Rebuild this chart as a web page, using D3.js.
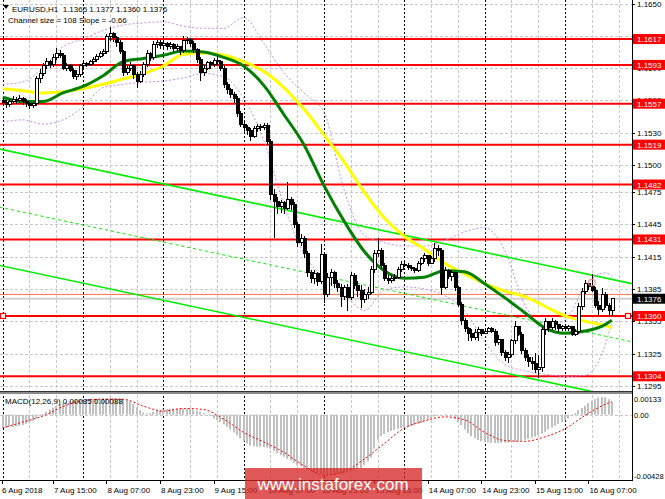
<!DOCTYPE html>
<html>
<head>
<meta charset="utf-8">
<title>EURUSD H1</title>
<script src="https://cdn.jsdelivr.net/npm/d3@7"></script>
<style>
  body { margin: 0; background: #ffffff; }
  svg { display: block; font-family: "Liberation Sans", Arial, sans-serif; }
</style>
</head>
<body>
<svg id="chart" width="665" height="499"></svg>
<script>
// EURUSD H1 - bar 0 is 7 Aug 2018 00:00, weekend bars are skipped
const opens = [
  1.1560, 1.1558, 1.1556, 1.1559, 1.1561, 1.1560, 1.1562, 1.1559, 1.1557, 1.1555,
  1.1557, 1.1580, 1.1585, 1.1592, 1.1596, 1.1593, 1.1600, 1.1604, 1.1602, 1.1590,
  1.1592, 1.1588, 1.1582, 1.1584, 1.1592, 1.1594, 1.1593, 1.1596, 1.1598, 1.1601,
  1.1604, 1.1605, 1.1619, 1.1622, 1.1618, 1.1614, 1.1605, 1.1586, 1.1590, 1.1592,
  1.1584, 1.1578, 1.1584, 1.1593, 1.1604, 1.1600, 1.1612, 1.1614, 1.1611, 1.1613,
  1.1610, 1.1612, 1.1608, 1.1610, 1.1606, 1.1616, 1.1617, 1.1613, 1.1607, 1.1598,
  1.1586, 1.1590, 1.1595, 1.1593, 1.1597, 1.1596, 1.1590, 1.1575, 1.1570, 1.1566,
  1.1562, 1.1548, 1.1538, 1.1535, 1.1532, 1.1527, 1.1534, 1.1536, 1.1535, 1.1537,
  1.1522, 1.1473, 1.1466, 1.1462, 1.1465, 1.1460, 1.1468, 1.1463, 1.1445, 1.1428,
  1.1432, 1.1418, 1.1400, 1.1395, 1.1399, 1.1392, 1.1417, 1.1380, 1.1396, 1.1400,
  1.1390, 1.1386, 1.1378, 1.1386, 1.1377, 1.1398, 1.1388, 1.1384, 1.1375, 1.1380,
  1.1382, 1.1403, 1.1418, 1.1421, 1.1407, 1.1395, 1.1393, 1.1395, 1.1396, 1.1403,
  1.1408, 1.1407, 1.1405, 1.1404, 1.1402, 1.1409, 1.1413, 1.1416, 1.1409, 1.1413,
  1.1423, 1.1421, 1.1386, 1.1402, 1.1397, 1.1400, 1.1386, 1.1371, 1.1356, 1.1348,
  1.1344, 1.1340, 1.1345, 1.1347, 1.1344, 1.1346, 1.1348, 1.1346, 1.1335, 1.1338,
  1.1326, 1.1321, 1.1324, 1.1337, 1.1350, 1.1343, 1.1328, 1.1321, 1.1318, 1.1316,
  1.1310, 1.1312, 1.1347, 1.1355, 1.1349, 1.1355, 1.1352, 1.1348, 1.1350, 1.1348,
  1.1350, 1.1343, 1.1346, 1.1369, 1.1383, 1.1390, 1.1387, 1.1384, 1.1370, 1.1366,
  1.1380, 1.1370, 1.1365
];
const highs = [
  1.1562, 1.1560, 1.1561, 1.1564, 1.1563, 1.1565, 1.1563, 1.1561, 1.1559, 1.1559,
  1.1583, 1.1589, 1.1595, 1.1599, 1.1598, 1.1603, 1.1609, 1.1607, 1.1604, 1.1595,
  1.1594, 1.1590, 1.1588, 1.1594, 1.1597, 1.1596, 1.1598, 1.1600, 1.1603, 1.1606,
  1.1608, 1.1622, 1.1628, 1.1624, 1.1620, 1.1616, 1.1607, 1.1594, 1.1596, 1.1594,
  1.1586, 1.1587, 1.1596, 1.1607, 1.1605, 1.1615, 1.1617, 1.1616, 1.1615, 1.1614,
  1.1614, 1.1613, 1.1612, 1.1611, 1.1620, 1.1619, 1.1618, 1.1615, 1.1609, 1.1600,
  1.1593, 1.1597, 1.1597, 1.1599, 1.1601, 1.1598, 1.1592, 1.1577, 1.1572, 1.1568,
  1.1564, 1.1550, 1.1541, 1.1537, 1.1534, 1.1536, 1.1538, 1.1538, 1.1539, 1.1539,
  1.1524, 1.1478, 1.1470, 1.1468, 1.1467, 1.1484, 1.1470, 1.1466, 1.1447, 1.1436,
  1.1434, 1.1420, 1.1403, 1.1403, 1.1401, 1.1427, 1.1418, 1.1400, 1.1404, 1.1402,
  1.1393, 1.1390, 1.1389, 1.1390, 1.1401, 1.1400, 1.1392, 1.1389, 1.1385, 1.1387,
  1.1406, 1.1421, 1.1432, 1.1423, 1.1409, 1.1398, 1.1398, 1.1399, 1.1405, 1.1411,
  1.1410, 1.1409, 1.1407, 1.1405, 1.1411, 1.1415, 1.1418, 1.1417, 1.1416, 1.1428,
  1.1426, 1.1423, 1.1405, 1.1404, 1.1403, 1.1400, 1.1388, 1.1373, 1.1358, 1.1350,
  1.1348, 1.1348, 1.1350, 1.1348, 1.1348, 1.1350, 1.1350, 1.1348, 1.1342, 1.1339,
  1.1328, 1.1327, 1.1339, 1.1355, 1.1351, 1.1345, 1.1330, 1.1325, 1.1322, 1.1326,
  1.1324, 1.1350, 1.1358, 1.1355, 1.1358, 1.1356, 1.1353, 1.1352, 1.1351, 1.1352,
  1.1351, 1.1348, 1.1372, 1.1386, 1.1393, 1.1391, 1.1399, 1.1387, 1.1374, 1.1386,
  1.1382, 1.1372, 1.1377
];
const lows = [
  1.1555, 1.1553, 1.1554, 1.1557, 1.1557, 1.1558, 1.1556, 1.1554, 1.1552, 1.1553,
  1.1555, 1.1576, 1.1583, 1.1589, 1.1590, 1.1591, 1.1598, 1.1599, 1.1588, 1.1587,
  1.1586, 1.1580, 1.1579, 1.1582, 1.1590, 1.1591, 1.1592, 1.1594, 1.1596, 1.1599,
  1.1601, 1.1603, 1.1615, 1.1614, 1.1610, 1.1603, 1.1583, 1.1584, 1.1587, 1.1580,
  1.1572, 1.1576, 1.1582, 1.1591, 1.1597, 1.1598, 1.1609, 1.1608, 1.1609, 1.1607,
  1.1608, 1.1605, 1.1605, 1.1602, 1.1604, 1.1612, 1.1610, 1.1604, 1.1595, 1.1578,
  1.1583, 1.1588, 1.1589, 1.1591, 1.1592, 1.1587, 1.1572, 1.1566, 1.1562, 1.1558,
  1.1545, 1.1535, 1.1531, 1.1528, 1.1522, 1.1525, 1.1531, 1.1532, 1.1533, 1.1519,
  1.1468, 1.1432, 1.1455, 1.1456, 1.1455, 1.1458, 1.1458, 1.1442, 1.1424, 1.1425,
  1.1414, 1.1396, 1.1391, 1.1390, 1.1388, 1.1390, 1.1372, 1.1378, 1.1388, 1.1386,
  1.1382, 1.1368, 1.1375, 1.1365, 1.1375, 1.1385, 1.1378, 1.1367, 1.1372, 1.1376,
  1.1380, 1.1400, 1.1415, 1.1404, 1.1392, 1.1390, 1.1391, 1.1392, 1.1394, 1.1401,
  1.1405, 1.1403, 1.1402, 1.1400, 1.1401, 1.1407, 1.1410, 1.1406, 1.1408, 1.1410,
  1.1416, 1.1379, 1.1385, 1.1394, 1.1392, 1.1383, 1.1368, 1.1352, 1.1345, 1.1337,
  1.1337, 1.1338, 1.1337, 1.1341, 1.1343, 1.1345, 1.1344, 1.1332, 1.1333, 1.1323,
  1.1318, 1.1316, 1.1322, 1.1334, 1.1341, 1.1325, 1.1318, 1.1313, 1.1310, 1.1307,
  1.1302, 1.1308, 1.1342, 1.1345, 1.1347, 1.1347, 1.1345, 1.1346, 1.1346, 1.1346,
  1.1341, 1.1341, 1.1343, 1.1366, 1.1380, 1.1384, 1.1382, 1.1367, 1.1361, 1.1364,
  1.1367, 1.1360, 1.1360
];
const closes = [
  1.1558, 1.1556, 1.1559, 1.1561, 1.1560, 1.1562, 1.1559, 1.1557, 1.1555, 1.1557,
  1.1580, 1.1585, 1.1592, 1.1596, 1.1593, 1.1600, 1.1604, 1.1602, 1.1590, 1.1592,
  1.1588, 1.1582, 1.1584, 1.1592, 1.1594, 1.1593, 1.1596, 1.1598, 1.1601, 1.1604,
  1.1605, 1.1619, 1.1622, 1.1618, 1.1614, 1.1605, 1.1586, 1.1590, 1.1592, 1.1584,
  1.1578, 1.1584, 1.1593, 1.1604, 1.1600, 1.1612, 1.1614, 1.1611, 1.1613, 1.1610,
  1.1612, 1.1608, 1.1610, 1.1606, 1.1616, 1.1617, 1.1613, 1.1607, 1.1598, 1.1586,
  1.1590, 1.1595, 1.1593, 1.1597, 1.1596, 1.1590, 1.1575, 1.1570, 1.1566, 1.1562,
  1.1548, 1.1538, 1.1535, 1.1532, 1.1527, 1.1534, 1.1536, 1.1535, 1.1537, 1.1522,
  1.1473, 1.1466, 1.1462, 1.1465, 1.1460, 1.1468, 1.1463, 1.1445, 1.1428, 1.1432,
  1.1418, 1.1400, 1.1395, 1.1399, 1.1392, 1.1417, 1.1380, 1.1396, 1.1400, 1.1390,
  1.1386, 1.1378, 1.1386, 1.1377, 1.1398, 1.1388, 1.1384, 1.1375, 1.1380, 1.1382,
  1.1403, 1.1418, 1.1421, 1.1407, 1.1395, 1.1393, 1.1395, 1.1396, 1.1403, 1.1408,
  1.1407, 1.1405, 1.1404, 1.1402, 1.1409, 1.1413, 1.1416, 1.1409, 1.1413, 1.1423,
  1.1421, 1.1386, 1.1402, 1.1397, 1.1400, 1.1386, 1.1371, 1.1356, 1.1348, 1.1344,
  1.1340, 1.1345, 1.1347, 1.1344, 1.1346, 1.1348, 1.1346, 1.1335, 1.1338, 1.1326,
  1.1321, 1.1324, 1.1337, 1.1350, 1.1343, 1.1328, 1.1321, 1.1318, 1.1316, 1.1310,
  1.1312, 1.1347, 1.1355, 1.1349, 1.1355, 1.1352, 1.1348, 1.1350, 1.1348, 1.1350,
  1.1343, 1.1346, 1.1369, 1.1383, 1.1390, 1.1387, 1.1384, 1.1370, 1.1366, 1.1380,
  1.1370, 1.1365, 1.1376
];

// indicator lines, read every 6 bars
const lineBars = [0, 6, 12, 18, 24, 30, 36, 42, 48, 54, 60, 66, 72, 78, 84, 90,
  96, 102, 108, 114, 120, 126, 132, 138, 144, 150, 156, 162, 168, 174, 180, 182];
const maGreen = [1.1563, 1.1559, 1.1559, 1.1567, 1.1573, 1.1583, 1.1596, 1.1599, 1.1602, 1.1606,
  1.1605, 1.1600, 1.1592, 1.1574, 1.1547, 1.1519, 1.1481, 1.1448, 1.1420, 1.1402,
  1.1395, 1.1396, 1.1402, 1.1401, 1.1390, 1.1377, 1.1363, 1.1349, 1.1344, 1.1346,
  1.1352, 1.1356];
const maYellow = [1.1571, 1.1569, 1.1567, 1.1568, 1.1571, 1.1575, 1.1580, 1.1585, 1.1592, 1.1603,
  1.1604, 1.1602, 1.1596, 1.1587, 1.1572, 1.1552, 1.1528, 1.1503, 1.1475, 1.1451,
  1.1434, 1.1422, 1.1409, 1.1399, 1.1390, 1.1383, 1.1378, 1.1369, 1.1360, 1.1355,
  1.1351, 1.1349];
const bandUpper = [1.1575, 1.1577, 1.1590, 1.1610, 1.1617, 1.1625, 1.1630, 1.1632, 1.1633, 1.1629,
  1.1627, 1.1627, 1.1637, 1.1613, 1.1586, 1.1567, 1.1549, 1.1477, 1.1435, 1.1428,
  1.1425, 1.1425, 1.1430, 1.1438, 1.1442, 1.1421, 1.1370, 1.1351, 1.1356, 1.1388,
  1.1400, 1.1397];
const bandLower = [1.1540, 1.1542, 1.1538, 1.1542, 1.1554, 1.1572, 1.1575, 1.1577, 1.1578, 1.1581,
  1.1585, 1.1582, 1.1562, 1.1523, 1.1463, 1.1418, 1.1395, 1.1381, 1.1365, 1.1384,
  1.1387, 1.1385, 1.1379, 1.1365, 1.1336, 1.1315, 1.1309, 1.1306, 1.1304, 1.1305,
  1.1333, 1.1354];

// regression channel (size 108, slope -0.66)
const channelBars = [-1, 188];
const channelUpper = [1.1515, 1.1390];
const channelMid = [1.1461, 1.1336];
const channelLower = [1.1407, 1.1282];

// support / resistance levels
const levels = [1.1617, 1.1593, 1.1557, 1.1519, 1.1482, 1.1431, 1.1360, 1.1304];
const lastPrice = 1.1376;
const askPrice = 1.1380;
const priceTicks = [1.1650, 1.1620, 1.1590, 1.1560, 1.1530, 1.1500, 1.1475, 1.1445,
  1.1415, 1.1385, 1.1355, 1.1325, 1.1295];

// MACD(12,26,9), in units of 0.00001
const macdMain = [
  -90, -88, -86, -83, -80, -76, -70, -62, -52, -40, -25,
  -10, 5, 20, 35, 48, 60, 70, 80, 86, 92, 96, 99,
  101, 103, 105, 107, 108, 109, 110, 111, 112, 112, 113, 112, 112,
  108, 100, 90, 72, 50, 30, 15, 8, 10, 18, 25,
  30, 35, 38, 40, 41, 42, 42, 41, 40, 38, 34, 28,
  20, 10, 0, -10, -25, -38, -50, -65, -82, -100, -120, -140,
  -160, -178, -195, -208, -214, -216, -216, -218, -222, -230, -245, -262,
  -272, -285, -298, -310, -325, -340, -350, -362, -375, -385, -393, -398,
  -402, -406, -408, -410, -408, -404, -400, -396, -390, -385, -378, -370,
  -360, -340, -315, -290, -230, -170, -145, -130, -118, -110, -102,
  -95, -90, -86, -82, -78, -72, -64, -56, -45, -35, -25, -12,
  -5, 2, 5, 0, -10, -30, -50, -70, -100, -125, -145, -160,
  -172, -180, -185, -188, -190, -191, -191, -190, -189, -188, -186, -185,
  -180, -175, -170, -163, -156, -148, -138, -128, -115, -100, -88, -75,
  -62, -50, -38, -25, -10, 10, 30, 45, 60, 78, 95, 105,
  115, 120, 118, 105, 85
];
const macdSignal = [-90, -50, -9, 55, 95, 104, 104, 58, 24, 42,
  35, -30, -120, -185, -255, -345, -410, -385, -300, -195,
  -90, -42, -15, -35, -120, -175, -180, -150, -95, -5,
  70, 88];
const macdTicks = [133, 0, -428];

const timeLabels = ["6 Aug 2018", "7 Aug 15:00", "8 Aug 07:00", "8 Aug 23:00", "9 Aug 15:00",
  "10 Aug 07:00", "10 Aug 23:00", "13 Aug 15:00", "14 Aug 07:00", "14 Aug 23:00",
  "15 Aug 15:00", "16 Aug 07:00"];
const timeLabelBars = [-1, 15, 31, 47, 63, 79, 95, 111, 127, 143, 159, 175];

const svg = d3.select("#chart");
const plotRight = 632;
const mainBottom = 391;
const axisBottom = 480;

const x = d3.scaleLinear().domain([0, 168]).range([2.7, 565]);
const y = d3.scaleLinear().domain([1.1295, 1.1650]).range([386, 3.5]);
const yM = d3.scaleLinear().domain([-428, 133]).range([478, 395]);

const defs = svg.append("defs");
defs.append("clipPath").attr("id", "mainClip")
    .append("rect").attr("x", 0).attr("y", 0).attr("width", plotRight).attr("height", mainBottom);
defs.append("clipPath").attr("id", "macdClip")
    .append("rect").attr("x", 0).attr("y", 394).attr("width", plotRight).attr("height", 86);

svg.append("rect").attr("width", 665).attr("height", 499).attr("fill", "#ffffff");

// price grid
svg.append("g").selectAll("line")
    .data(priceTicks)
    .enter().append("line")
    .attr("x1", 0).attr("x2", plotRight)
    .attr("y1", d => Math.round(y(d)) + 0.5)
    .attr("y2", d => Math.round(y(d)) + 0.5)
    .attr("stroke", "#c8c8c8")
    .attr("stroke-dasharray", "3,2");

// vertical grid every 8 bars, day separators every 24
const gridBars = d3.range(0, 189, 8);
svg.append("g").selectAll("line")
    .data(gridBars)
    .enter().append("line")
    .attr("x1", d => Math.round(x(d)) + 0.5)
    .attr("x2", d => Math.round(x(d)) + 0.5)
    .attr("y1", 0).attr("y2", axisBottom)
    .attr("stroke", d => d % 24 === 0 ? "#000000" : "#c8c8c8")
    .attr("stroke-dasharray", d => d % 24 === 0 ? "2,2" : "3,2");

const main = svg.append("g").attr("clip-path", "url(#mainClip)");

// levels
main.selectAll(".level")
    .data(levels)
    .enter().append("line")
    .attr("class", "level")
    .attr("x1", 0).attr("x2", plotRight)
    .attr("y1", d => y(d)).attr("y2", d => y(d))
    .attr("stroke", "#ff0000")
    .attr("stroke-width", 2);

// bid / ask lines
main.append("line")
    .attr("x1", 0).attr("x2", plotRight)
    .attr("y1", y(lastPrice)).attr("y2", y(lastPrice))
    .attr("stroke", "#d0d0d0").attr("stroke-width", 2);
main.append("line")
    .attr("x1", 0).attr("x2", plotRight)
    .attr("y1", y(askPrice)).attr("y2", y(askPrice))
    .attr("stroke", "#ff7040").attr("stroke-width", 1);

// regression channel
const chanLine = vals => d3.line()
    .x((d, i) => x(channelBars[i]))
    .y(d => y(d))(vals);
[channelUpper, channelLower].forEach(vals => {
    main.append("path").attr("d", chanLine(vals))
        .attr("fill", "none").attr("stroke", "#00ee00").attr("stroke-width", 1.6);
});
main.append("path").attr("d", chanLine(channelMid))
    .attr("fill", "none").attr("stroke", "#00ee00")
    .attr("stroke-width", 1).attr("stroke-dasharray", "3,3");

// bands and moving averages
const smooth = d3.line()
    .x((d, i) => x(lineBars[i]))
    .y(d => y(d))
    .curve(d3.curveMonotoneX);
[bandUpper, bandLower].forEach(vals => {
    main.append("path").attr("d", smooth(vals))
        .attr("fill", "none").attr("stroke", "#c78cf0")
        .attr("stroke-width", 1).attr("stroke-dasharray", "2,2");
});
main.append("path").attr("d", smooth(maYellow))
    .attr("fill", "none").attr("stroke", "#ffff00").attr("stroke-width", 3);
main.append("path").attr("d", smooth(maGreen))
    .attr("fill", "none").attr("stroke", "#008000").attr("stroke-width", 3);

// candles
const bars = closes.map((c, i) => ({ i, o: opens[i], h: highs[i], l: lows[i], c }));
const candle = main.append("g").attr("shape-rendering", "crispEdges");
candle.selectAll(".wick")
    .data(bars)
    .enter().append("line")
    .attr("x1", d => Math.round(x(d.i)) + 0.5)
    .attr("x2", d => Math.round(x(d.i)) + 0.5)
    .attr("y1", d => y(d.h)).attr("y2", d => y(d.l))
    .attr("stroke", "#000000");
candle.selectAll(".body")
    .data(bars)
    .enter().append("rect")
    .attr("x", d => Math.round(x(d.i)) - 1)
    .attr("y", d => y(Math.max(d.o, d.c)))
    .attr("width", 3)
    .attr("height", d => Math.max(1, Math.abs(y(d.o) - y(d.c))))
    .attr("fill", d => d.c >= d.o ? "#ffffff" : "#000000")
    .attr("stroke", "#000000")
    .attr("stroke-width", 1);

// alert marker on the high
main.append("circle")
    .attr("cx", x(176)).attr("cy", y(1.1391))
    .attr("r", 3.5).attr("fill", "none")
    .attr("stroke", "#ff8080").attr("stroke-width", 1);

// order markers on 1.1360
[3, plotRight - 4].forEach(px => {
    svg.append("rect")
        .attr("x", px - 2.5).attr("y", y(1.1360) - 2.5)
        .attr("width", 5).attr("height", 5)
        .attr("fill", "#ffffff").attr("stroke", "#ff0000").attr("stroke-width", 1.2);
});

// MACD panel
const macd = svg.append("g").attr("clip-path", "url(#macdClip)");
macd.append("line")
    .attr("x1", 0).attr("x2", plotRight)
    .attr("y1", Math.round(yM(0)) + 0.5).attr("y2", Math.round(yM(0)) + 0.5)
    .attr("stroke", "#c8c8c8").attr("stroke-dasharray", "3,2");
macd.selectAll(".hist")
    .data(macdMain)
    .enter().append("rect")
    .attr("x", (d, i) => Math.round(x(i)) - 1)
    .attr("y", d => Math.min(yM(0), yM(d)))
    .attr("width", 2)
    .attr("height", d => Math.abs(yM(d) - yM(0)))
    .attr("fill", "#c0c0c0");
macd.append("path")
    .attr("d", d3.line().x((d, i) => x(lineBars[i])).y(d => yM(d)).curve(d3.curveMonotoneX)(macdSignal))
    .attr("fill", "none").attr("stroke", "#ff0000")
    .attr("stroke-width", 1).attr("stroke-dasharray", "2,2");

svg.append("text")
    .attr("x", 5).attr("y", 404)
    .attr("font-size", 8).attr("fill", "#000")
    .text("MACD(12,26,9) 0.00085 0.00088");

// panel separator and axes
svg.append("rect").attr("x", 0).attr("y", 391).attr("width", plotRight).attr("height", 3).attr("fill", "#8a8a8a");
svg.append("line").attr("x1", 0).attr("x2", plotRight).attr("y1", 391.5).attr("y2", 391.5).attr("stroke", "#333");
svg.append("line").attr("x1", 0).attr("x2", plotRight + 1).attr("y1", axisBottom + 0.5).attr("y2", axisBottom + 0.5).attr("stroke", "#000");
svg.append("line").attr("x1", plotRight + 0.5).attr("x2", plotRight + 0.5).attr("y1", 0).attr("y2", axisBottom).attr("stroke", "#000");

// price axis
const priceAxis = svg.append("g").attr("font-size", 8).attr("fill", "#000");
priceAxis.selectAll("line")
    .data(priceTicks)
    .enter().append("line")
    .attr("x1", plotRight).attr("x2", plotRight + 3)
    .attr("y1", d => Math.round(y(d)) + 0.5).attr("y2", d => Math.round(y(d)) + 0.5)
    .attr("stroke", "#000");
priceAxis.selectAll("text")
    .data(priceTicks)
    .enter().append("text")
    .attr("x", plotRight + 5)
    .attr("y", d => y(d) + 3)
    .text(d => d.toFixed(4));

const levelTags = svg.append("g");
levelTags.selectAll("rect")
    .data(levels)
    .enter().append("rect")
    .attr("x", plotRight + 1).attr("y", d => y(d) - 5)
    .attr("width", 665 - plotRight - 1).attr("height", 10)
    .attr("fill", "#ff0000");
levelTags.selectAll("text")
    .data(levels)
    .enter().append("text")
    .attr("x", plotRight + 5).attr("y", d => y(d) + 3)
    .attr("font-size", 8).attr("fill", "#ffffff")
    .text(d => d.toFixed(4));

svg.append("rect")
    .attr("x", plotRight + 1).attr("y", y(lastPrice) - 5)
    .attr("width", 665 - plotRight - 1).attr("height", 10)
    .attr("fill", "#000000");
svg.append("text")
    .attr("x", plotRight + 5).attr("y", y(lastPrice) + 3)
    .attr("font-size", 8).attr("fill", "#ffffff")
    .text(lastPrice.toFixed(4));

// MACD axis
svg.append("g").selectAll("text")
    .data(macdTicks)
    .enter().append("text")
    .attr("x", plotRight + 2)
    .attr("y", d => Math.min(476, Math.max(399, yM(d))) + 3)
    .attr("font-size", 7.5).attr("fill", "#000")
    .text(d => d === 0 ? "0.00" : (d / 1e5).toFixed(5));

// time axis
const timeAxis = svg.append("g");
timeAxis.selectAll("line")
    .data(timeLabelBars)
    .enter().append("line")
    .attr("x1", d => Math.max(2, Math.round(x(d))) + 0.5)
    .attr("x2", d => Math.max(2, Math.round(x(d))) + 0.5)
    .attr("y1", axisBottom).attr("y2", axisBottom + 4)
    .attr("stroke", "#000");
timeAxis.selectAll("text")
    .data(timeLabels)
    .enter().append("text")
    .attr("x", (d, i) => Math.max(2, x(timeLabelBars[i]) + 1))
    .attr("y", 493)
    .attr("font-size", 8).attr("fill", "#000")
    .text(d => d);

// header
svg.append("path").attr("d", "M3,5 L9,5 L6,9 Z").attr("fill", "#000");
svg.append("text")
    .attr("x", 12).attr("y", 12)
    .attr("font-size", 8).attr("fill", "#000")
    .attr("xml:space", "preserve")
    .text("EURUSD,H1  1.1365 1.1377 1.1360 1.1376");
svg.append("text")
    .attr("x", 8).attr("y", 23)
    .attr("font-size", 8).attr("fill", "#000")
    .text("Channel size = 108 Slope = -0.66");

// watermark
svg.append("rect")
    .attr("x", 245).attr("y", 468).attr("width", 177).attr("height", 31)
    .attr("fill", "rgba(214,36,36,0.76)");
svg.append("text")
    .attr("x", 333).attr("y", 490)
    .attr("text-anchor", "middle")
    .attr("font-size", 17).attr("fill", "#ffffff")
    .text("www.instaforex.com");
</script>
</body>
</html>
